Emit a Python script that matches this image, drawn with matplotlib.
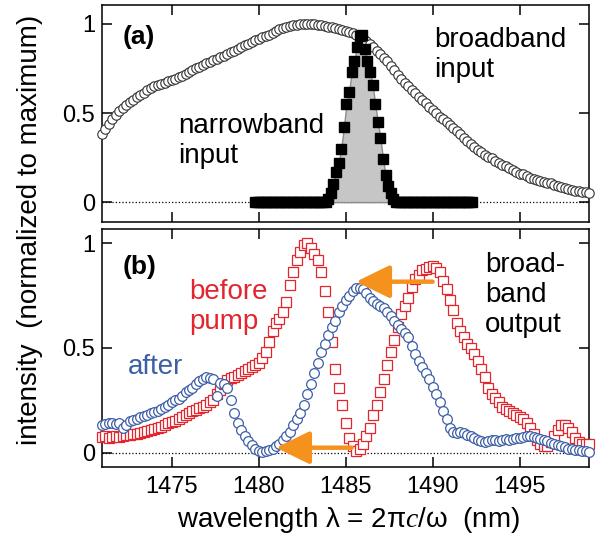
import matplotlib
matplotlib.use("Agg")
import matplotlib.pyplot as plt
import numpy as np

plt.rcParams['font.family'] = ['Liberation Sans', 'DejaVu Sans']
plt.rcParams['mathtext.fontset'] = 'custom'
plt.rcParams['mathtext.it'] = 'Liberation Serif:italic'
plt.rcParams['mathtext.rm'] = 'Liberation Sans'

# ---- data ----
# (a) broadband input, 1471..1499 nm every 0.2 nm
bb_int = [0.38, 0.41, 0.44, 0.465, 0.49, 0.51, 0.53, 0.545, 0.56, 0.575,
          0.59, 0.60, 0.615, 0.63, 0.64, 0.65, 0.655, 0.665, 0.67, 0.68,
          0.685, 0.69, 0.70, 0.71, 0.72, 0.73, 0.74, 0.75, 0.76, 0.77,
          0.78, 0.785, 0.795, 0.805, 0.815, 0.82, 0.83, 0.84, 0.85, 0.86,
          0.87, 0.88, 0.89, 0.90, 0.91, 0.915, 0.925, 0.93, 0.94, 0.95,
          0.96, 0.97, 0.975, 0.98, 0.99, 0.993, 0.996, 0.998, 1.0, 1.0,
          1.0, 0.998, 0.996, 0.993, 0.99, 0.985, 0.98, 0.975, 0.97, 0.965,
          0.96, 0.955, 0.95, 0.94, 0.93, 0.92, 0.905, 0.89, 0.87, 0.85,
          0.83, 0.81, 0.79, 0.765, 0.74, 0.715, 0.69, 0.67, 0.65, 0.63,
          0.61, 0.59, 0.575, 0.555, 0.535, 0.515, 0.50, 0.48, 0.465, 0.45,
          0.435, 0.415, 0.40, 0.38, 0.36, 0.345, 0.325, 0.31, 0.295, 0.28,
          0.265, 0.255, 0.245, 0.23, 0.22, 0.21, 0.20, 0.19, 0.18, 0.17,
          0.16, 0.155, 0.145, 0.135, 0.13, 0.125, 0.12, 0.115, 0.11, 0.105,
          0.095, 0.09, 0.085, 0.08, 0.075, 0.07, 0.065, 0.06, 0.058, 0.055,
          0.052]
bb_wl = np.linspace(1471, 1499, len(bb_int))

# (a) narrowband input, 1479.8..1492.25 nm every 0.15 nm
nb_peak = [0.02, 0.05, 0.10, 0.17, 0.22, 0.30, 0.42, 0.55, 0.62, 0.73,
           0.79, 0.87, 0.93, 0.94, 0.86, 0.79, 0.73, 0.66, 0.55, 0.45,
           0.36, 0.24, 0.15, 0.09, 0.05, 0.02, 0.0]
nb_int = [0.0] * 28 + nb_peak + [0.0] * 29
nb_wl = np.linspace(1479.8, 1492.25, len(nb_int))

# (b) before pump, 1471..1499 nm every 0.2 nm
before = [0.075, 0.08, 0.07, 0.075, 0.08, 0.075, 0.08, 0.085, 0.085, 0.09,
          0.09, 0.095, 0.10, 0.105, 0.11, 0.115, 0.12, 0.125, 0.13, 0.14,
          0.145, 0.15, 0.16, 0.17, 0.18, 0.19, 0.20, 0.205, 0.215, 0.22,
          0.23, 0.24, 0.25, 0.28, 0.30, 0.33, 0.345, 0.355, 0.36, 0.37,
          0.38, 0.39, 0.40, 0.41, 0.42, 0.43, 0.45, 0.48, 0.53, 0.58,
          0.62, 0.64, 0.67, 0.72, 0.80, 0.86, 0.92, 0.96, 0.99, 1.0,
          0.975, 0.95, 0.92, 0.86, 0.77, 0.67, 0.53, 0.40, 0.31, 0.23,
          0.14, 0.07, 0.03, 0.01, 0.02, 0.04, 0.08, 0.12, 0.18, 0.23,
          0.29, 0.35, 0.42, 0.48, 0.54, 0.60, 0.66, 0.70, 0.74, 0.79,
          0.83, 0.85, 0.87, 0.875, 0.885, 0.89, 0.88, 0.86, 0.82, 0.78,
          0.73, 0.68, 0.62, 0.58, 0.55, 0.52, 0.50, 0.47, 0.44, 0.40,
          0.36, 0.31, 0.28, 0.26, 0.24, 0.22, 0.21, 0.20, 0.19, 0.18,
          0.17, 0.16, 0.14, 0.12, 0.09, 0.06, 0.04, 0.03, 0.03, 0.05,
          0.08, 0.11, 0.13, 0.13, 0.12, 0.10, 0.07, 0.05, 0.04, 0.04,
          0.04]
before_wl = np.linspace(1471, 1499, len(before))

# (b) after pump
after = [0.13, 0.135, 0.14, 0.14, 0.135, 0.14, 0.12, 0.13, 0.15, 0.155,
         0.16, 0.17, 0.175, 0.18, 0.19, 0.195, 0.20, 0.21, 0.22, 0.23,
         0.24, 0.25, 0.255, 0.27, 0.29, 0.30, 0.31, 0.33, 0.34, 0.35,
         0.36, 0.355, 0.35, 0.27, 0.335, 0.33, 0.31, 0.25, 0.19, 0.14,
         0.11, 0.08, 0.055, 0.035, 0.02, 0.01, 0.005, 0.01, 0.015, 0.02,
         0.03, 0.04, 0.06, 0.08, 0.10, 0.13, 0.16, 0.19, 0.23, 0.28,
         0.33, 0.38, 0.43, 0.48, 0.52, 0.56, 0.60, 0.63, 0.67, 0.70,
         0.73, 0.75, 0.77, 0.785, 0.785, 0.78, 0.76, 0.74, 0.725, 0.71,
         0.70, 0.69, 0.67, 0.65, 0.63, 0.61, 0.59, 0.57, 0.55, 0.51,
         0.47, 0.44, 0.41, 0.38, 0.35, 0.315, 0.28, 0.24, 0.20, 0.16,
         0.12, 0.10, 0.095, 0.10, 0.095, 0.085, 0.08, 0.07, 0.06, 0.055,
         0.05, 0.055, 0.06, 0.06, 0.055, 0.06, 0.065, 0.06, 0.065, 0.07,
         0.07, 0.075, 0.08, 0.08, 0.075, 0.07, 0.065, 0.06, 0.055, 0.045,
         0.04, 0.035, 0.03, 0.025, 0.02, 0.02, 0.015, 0.015, 0.01, 0.01,
         0.005]
after_wl = np.linspace(1471, 1499, len(after))

xticks = [1475, 1480, 1485, 1490, 1495]
yticks = [0, 0.5, 1]
ylabels = ["0", "0.5", "1"]

red = '#e3262e'
blue = '#3d5fa6'
orange = '#f5921e'

fig = plt.figure(figsize=(6, 5.39), dpi=100)
ax1 = fig.add_axes([0.17, 0.588, 0.812, 0.403])
ax2 = fig.add_axes([0.17, 0.134, 0.812, 0.441])

for ax in (ax1, ax2):
    ax.set_xlim(1471, 1499)
    ax.set_xticks(xticks)
    ax.set_yticks(yticks)
    ax.set_yticklabels(ylabels)
    ax.tick_params(direction='in', length=7, width=1.1, top=True, right=True,
                   labelsize=17, pad=5)
    ax.tick_params(axis='x', pad=7)
    for s in ax.spines.values():
        s.set_linewidth(1.1)
    ax.axhline(0, color='k', ls=':', lw=0.9, zorder=1)

ax1.set_ylim(-0.112, 1.107)
ax2.set_ylim(-0.067, 1.067)
ax1.tick_params(labelbottom=False)

# (a)
ax1.fill_between(nb_wl, nb_int, color='#c6c6c6', edgecolor='#8c8c8c', lw=1, zorder=2)
ax1.plot(bb_wl, bb_int, 'o', ms=6.8, mfc='white', mec='#333333', mew=0.8,
         clip_on=False, zorder=3)
ax1.plot(nb_wl, nb_int, 's', ms=7, color='black', zorder=4)

ax1.text(1472.2, 0.927, "(a)", fontsize=19, fontweight='bold', va='center')
ax1.text(1475.4, 0.50, "narrowband\ninput", fontsize=20, va='top')
ax1.text(1490.1, 0.985, "broadband\ninput", fontsize=20, va='top')

# (b)
ax2.plot(before_wl, before, 's', ms=6.8, mfc='white', mec=red, mew=0.9,
         clip_on=False, zorder=3)
ax2.plot(after_wl, after, 'o', ms=7, mfc='white', mec=blue, mew=0.9,
         clip_on=False, zorder=4)

arrow = dict(arrowstyle='-|>,head_length=0.45,head_width=0.22', color=orange,
             lw=3.2, mutation_scale=46, shrinkA=0, shrinkB=0)
ax2.annotate('', xy=(1485.6, 0.816), xytext=(1490.0, 0.816), arrowprops=arrow,
             zorder=5)
ax2.annotate('', xy=(1481.0, 0.024), xytext=(1485.35, 0.024), arrowprops=arrow,
             zorder=5)

ax2.text(1472.2, 0.886, "(b)", fontsize=19, fontweight='bold', va='center')
ax2.text(1476.0, 0.83, "before\npump", fontsize=20, va='top', color=red)
ax2.text(1472.5, 0.47, "after", fontsize=20, va='top', color=blue)
ax2.text(1493.0, 0.96, "broad-\nband\noutput", fontsize=20, va='top')

fig.text(0.58, 1 - 520 / 539, r"wavelength λ = 2π$c$/ω  (nm)", fontsize=20,
         ha='center', va='center')
fig.text(0.05, 0.573, "intensity  (normalized to maximum)", fontsize=20,
         rotation=90, ha='center', va='center')

fig.savefig("out.png", dpi=100)
